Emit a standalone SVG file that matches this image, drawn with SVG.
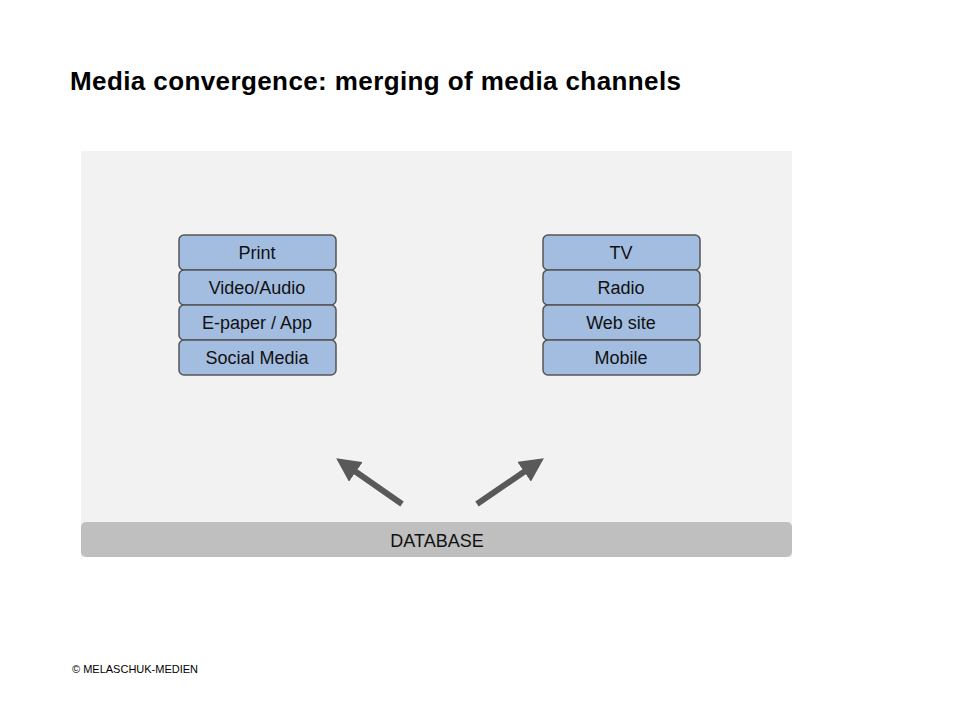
<svg xmlns="http://www.w3.org/2000/svg" width="960" height="720" viewBox="0 0 960 720">
<style>
.b{fill:#a2bde0;stroke:#555;stroke-width:1.5}
.t{font-family:"Liberation Sans",Arial,sans-serif;font-size:18px;fill:#111;text-anchor:middle}
.c{stroke:#595959;stroke-width:6;fill:none}
</style>
<defs><marker id="a" markerWidth="4" markerHeight="4" refX="2" refY="2" orient="auto" markerUnits="strokeWidth"><path d="M0,0L4,2L0,4Z" fill="#595959"/></marker></defs>
<rect width="960" height="720" fill="#fff"/>
<text x="70" y="90" textLength="611" style="font-family:'Liberation Sans',Arial,sans-serif;font-size:26px;font-weight:bold;fill:#000">Media convergence: merging of media channels</text>
<rect x="81" y="151" width="711" height="406" fill="#f2f2f2"/>
<g id="database"><rect x="81" y="522" width="711" height="35" rx="5" fill="#bfbfbf"/><text class="t" x="437" y="547">DATABASE</text></g>
<g id="print"><rect class="b" x="179" y="235" width="157" height="35" rx="5"/><text class="t" x="257" y="259">Print</text></g>
<g id="video"><rect class="b" x="179" y="270" width="157" height="35" rx="5"/><text class="t" x="257" y="294">Video/Audio</text></g>
<g id="epaper"><rect class="b" x="179" y="305" width="157" height="35" rx="5"/><text class="t" x="257" y="329">E-paper / App</text></g>
<g id="social"><rect class="b" x="179" y="340" width="157" height="35" rx="5"/><text class="t" x="257" y="364">Social Media</text></g>
<g id="tv"><rect class="b" x="543" y="235" width="157" height="35" rx="5"/><text class="t" x="621" y="259">TV</text></g>
<g id="radio"><rect class="b" x="543" y="270" width="157" height="35" rx="5"/><text class="t" x="621" y="294">Radio</text></g>
<g id="web"><rect class="b" x="543" y="305" width="157" height="35" rx="5"/><text class="t" x="621" y="329">Web site</text></g>
<g id="mobile"><rect class="b" x="543" y="340" width="157" height="35" rx="5"/><text class="t" x="621" y="364">Mobile</text></g>
<g id="connectors">
<line class="c" x1="402" y1="504" x2="346" y2="465" marker-end="url(#a)"/>
<line class="c" x1="477" y1="504" x2="534" y2="465" marker-end="url(#a)"/>
</g>
<text x="72" y="673" style="font-family:'Liberation Sans',Arial,sans-serif;font-size:11px;fill:#000">© MELASCHUK-MEDIEN</text>
</svg>
